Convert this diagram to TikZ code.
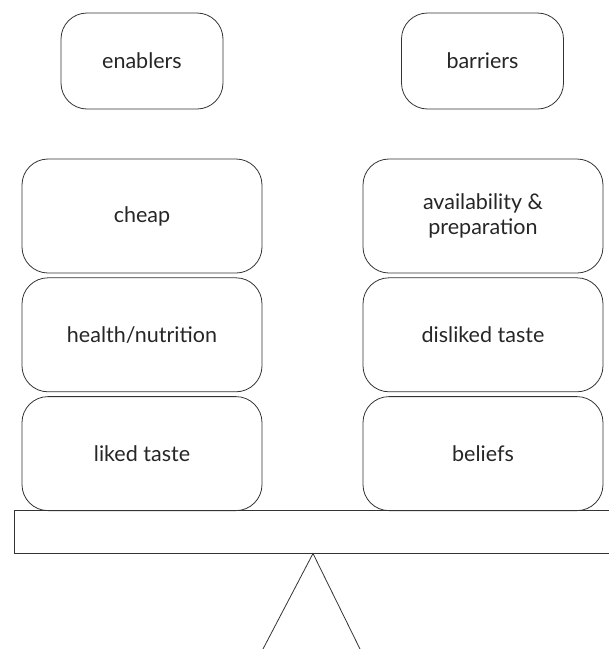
\documentclass[tikz,border=0pt]{standalone}
\usepackage{fontspec}
\setmainfont{Lato}
\usetikzlibrary{positioning}

\begin{document}
\begin{tikzpicture}[x=1pt, y=-1pt,
    every node/.style={font=\fontsize{21.5}{25}\selectfont, text=black!85},
    pan/.style={draw=black!80, line width=0.8pt, rounded corners=26pt,
        minimum width=240pt, minimum height=114pt, inner sep=0pt, align=center},
    head/.style={pan, minimum width=162pt, minimum height=96pt}]
    \clip (0, 0) rectangle (609, 649);
    % headings
    \node[head] (enablers) at (142, 61) {enablers};
    \node[head] (barriers) at (482.5, 61) {barriers};
    % left pan
    \node[pan] (cheap) at (142, 216) {cheap};
    \node[pan, below=4pt of cheap] (health) {health/nutrition};
    \node[pan, below=4pt of health] (liked) {liked taste};
    % right pan
    \node[pan] (avail) at (483, 216) {availability \&\\preparation};
    \node[pan, below=4pt of avail] (disliked) {disliked taste};
    \node[pan, below=4pt of disliked] (beliefs) {beliefs};
    % beam and pivot
    \draw[black!80, line width=0.8pt] (14, 510.5) rectangle (620, 553.5);
    \coordinate (pivot) at (313, 553.5);
    \coordinate (footl) at (263, 649);
    \coordinate (footr) at (360, 649);
    \draw[black!80, line width=0.8pt] (footl) -- (pivot) -- (footr);
\end{tikzpicture}
\end{document}
